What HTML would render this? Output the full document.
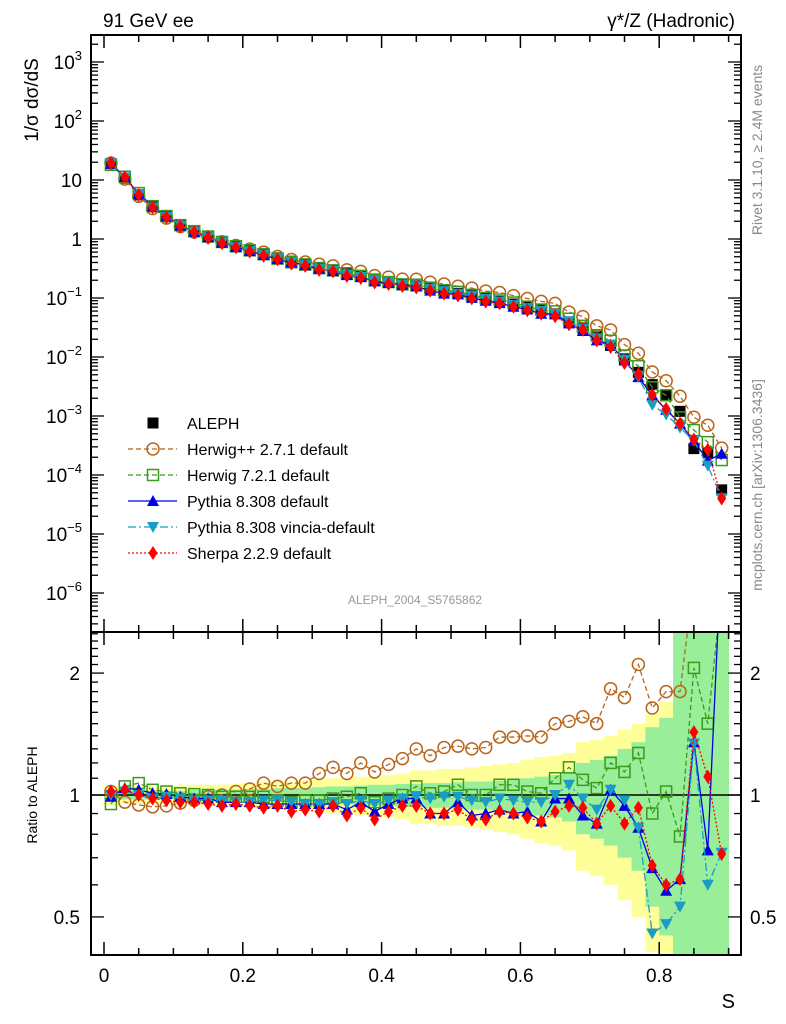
<!DOCTYPE html>
<html><head><meta charset="utf-8">
<style>
html,body{margin:0;padding:0;background:#fff;width:786px;height:1024px;overflow:hidden;}
svg{display:block;font-family:"Liberation Sans",sans-serif;}
</style></head>
<body>
<svg id="chart" width="786" height="1024" viewBox="0 0 786 1024" xmlns="http://www.w3.org/2000/svg">
<defs>
<clipPath id="clipMain"><rect x="91" y="35" width="650" height="597"/></clipPath>
<clipPath id="clipRatio"><rect x="91" y="632" width="650" height="323"/></clipPath>
</defs>
<g id="bands" clip-path="url(#clipRatio)"></g>
<g id="mainMarks" clip-path="url(#clipMain)"></g>
<g id="ratioMarks" clip-path="url(#clipRatio)"></g>
<g id="axes"></g>
<text x="103" y="27" font-size="19">91 GeV ee</text>
<text x="735" y="27" font-size="19" text-anchor="end">γ*/Z (Hadronic)</text>
<text transform="translate(38,100) rotate(-90)" font-size="19" text-anchor="middle">1/σ  dσ/dS</text>
<text transform="translate(37,795) rotate(-90)" font-size="14" text-anchor="middle">Ratio to ALEPH</text>
<text x="735" y="1008" font-size="20" text-anchor="end">S</text>
<text transform="translate(762,150) rotate(-90)" font-size="14" fill="#888" text-anchor="middle">Rivet 3.1.10, ≥ 2.4M events</text>
<text transform="translate(762,485) rotate(-90)" font-size="14" fill="#888" text-anchor="middle">mcplots.cern.ch [arXiv:1306.3436]</text>
<text x="415" y="604" font-size="12" fill="#999" text-anchor="middle">ALEPH_2004_S5765862</text>
<g id="legend"></g>
</svg>
<script>
// ---- data ----
const binCenters = [0.01,0.03,0.05,0.07,0.09,0.11,0.13,0.15,0.17,0.19,0.21,0.23,0.25,0.27,0.29,0.31,0.33,0.35,0.37,0.39,0.41,0.43,0.45,0.47,0.49,0.51,0.53,0.55,0.57,0.59,0.61,0.63,0.65,0.67,0.69,0.71,0.73,0.75,0.77,0.79,0.81,0.83,0.85,0.87,0.89];
const alephValues = [19,10.8,5.6,3.5,2.4,1.7,1.35,1.1,0.9,0.76,0.65,0.56,0.48,0.42,0.38,0.33,0.30,0.265,0.235,0.21,0.19,0.17,0.16,0.148,0.132,0.12,0.113,0.1,0.089,0.079,0.07,0.063,0.054,0.038,0.031,0.0225,0.0157,0.0093,0.0055,0.0034,0.0022,0.0012,0.00028,0.00024,0.000056];
const totalUnc = [0.055,0.05,0.05,0.05,0.05,0.055,0.06,0.06,0.06,0.065,0.07,0.075,0.08,0.08,0.085,0.09,0.10,0.10,0.11,0.11,0.12,0.13,0.15,0.15,0.16,0.16,0.17,0.18,0.19,0.20,0.22,0.24,0.25,0.27,0.35,0.37,0.40,0.45,0.50,0.59,0.70,2,2,2,2];
const statUnc = [0.025,0.025,0.025,0.025,0.025,0.025,0.03,0.03,0.03,0.03,0.035,0.035,0.04,0.04,0.04,0.045,0.05,0.05,0.055,0.06,0.06,0.065,0.065,0.07,0.07,0.075,0.08,0.08,0.085,0.09,0.10,0.11,0.12,0.14,0.20,0.22,0.25,0.30,0.35,0.47,0.55,2,2,2,2];
const herwigppRatio = [1.02,0.96,0.945,0.935,0.94,0.955,0.97,0.99,1.0,1.02,1.035,1.07,1.05,1.07,1.07,1.13,1.17,1.13,1.2,1.14,1.19,1.23,1.30,1.25,1.31,1.32,1.30,1.31,1.39,1.39,1.40,1.39,1.50,1.52,1.56,1.50,1.83,1.74,2.10,1.64,1.80,1.80,3.4,2.9,5.1];
const herwig7Ratio = [0.95,1.05,1.07,1.03,1.02,1.01,1.005,1.0,0.99,0.99,0.99,0.99,0.97,0.96,0.97,0.97,0.98,0.99,1.01,0.96,0.98,1.0,1.05,1.01,1.02,1.06,1.0,1.0,1.06,1.06,1.02,1.01,1.10,1.17,1.09,1.04,1.20,1.14,1.27,0.90,1.02,0.79,2.06,1.50,3.2];
const pythiaRatio = [0.99,1.04,1.03,1.01,1.006,0.99,0.98,0.98,0.96,0.96,0.96,0.95,0.95,0.95,0.95,0.95,0.95,0.92,0.96,0.91,0.95,0.98,0.98,0.90,0.90,0.96,0.89,0.90,0.92,0.90,0.91,0.86,0.98,0.98,0.89,0.85,1.03,0.94,0.83,0.66,0.58,0.62,1.35,0.73,4.1];
const vinciaRatio = [1.0,1.02,1.0,0.98,0.99,0.98,0.97,0.97,0.97,0.96,0.96,0.97,0.97,0.96,0.95,0.95,0.96,0.95,0.97,0.95,0.97,0.98,0.99,0.98,0.99,0.99,0.97,0.96,0.98,0.97,0.96,0.96,1.0,1.06,0.98,0.92,1.03,0.97,0.83,0.455,0.48,0.53,1.34,0.60,0.72];
const sherpaRatio = [1.02,1.03,1.0,0.98,0.97,0.96,0.96,0.95,0.94,0.95,0.94,0.93,0.94,0.91,0.92,0.91,0.94,0.89,0.93,0.87,0.91,0.94,0.94,0.90,0.90,0.92,0.87,0.87,0.91,0.90,0.88,0.86,0.91,0.94,0.93,0.85,0.94,0.85,0.93,0.67,0.60,0.62,1.43,1.11,0.715];
const xTickLabels = ["0","0.2","0.4","0.6","0.8"];
const yMainTickLabels = ["10⁻⁶","10⁻⁵","10⁻⁴","10⁻³","10⁻²","10⁻¹","1","10","10²","10³"];
const ratioTickLabels = ["0.5","1","2"];

// ---- axes functions ----
const NS="http://www.w3.org/2000/svg";
const X0=91, X1=741, YT=35, YM=632, YB=955;
function xs(s){return 104+694*s;}
function ym(v){return 239-59*Math.log10(v);}
function yr(r){return 795-405*Math.log10(r);}
function mk(tag,attrs,parent){const e=document.createElementNS(NS,tag);for(const k in attrs)e.setAttribute(k,attrs[k]);parent.appendChild(e);return e;}

const axes=document.getElementById('axes');
let f1=mk('rect',{x:X0,y:YT,width:X1-X0,height:YM-YT,fill:'none',stroke:'#000','stroke-width':2},axes);


let f2=mk('rect',{x:X0,y:YM,width:X1-X0,height:YB-YM,fill:'none',stroke:'#000','stroke-width':2},axes);



for(let k=0;k<=18;k++){
  const s=k*0.05, x=xs(s); if(x>X1)continue;
  const big=(k%4===0), len=big?13:7;
  [[YT,1],[YM,-1],[YM,1],[YB,-1]].forEach(([y,d])=>{
    mk('line',{x1:x,x2:x,y1:y,y2:y+d*len,stroke:'#000','stroke-width':1.5},axes);
  });
}
xTickLabels.forEach((lab,i)=>{
  const t=mk('text',{x:xs(i*0.2),y:982,'font-size':19,'text-anchor':'middle'},axes);
  t.textContent=lab;
  
  
});
for(let e=-7;e<=3;e++){
  for(let m=1;m<10;m++){
    const v=m*Math.pow(10,e), y=ym(v);
    if(y<YT||y>YM)continue;
    const len=m===1?13:7;
    mk('line',{x1:X0,x2:X0+len,y1:y,y2:y,stroke:'#000','stroke-width':1.3},axes);
    mk('line',{x1:X1,x2:X1-len,y1:y,y2:y,stroke:'#000','stroke-width':1.3},axes);
  }
}
yMainTickLabels.forEach((lab,i)=>{
  const e=i-6, y=ym(Math.pow(10,e));
  const t=mk('text',{x:82,y:y+7,'font-size':19,'text-anchor':'end'},axes);
  if(e>=2||e<0){
    t.textContent='10';
    const sup=mk('tspan',{dy:-9,'font-size':13},t);
    sup.textContent=(e<0?'−':'')+Math.abs(e);
  } else t.textContent=lab;
  
  
});
for(let k=4;k<=25;k++){
  const r=k/10, y=yr(r); if(y<YM||y>YB)continue;
  const len=(k===5||k===10||k===20)?13:7;
  mk('line',{x1:X0,x2:X0+len,y1:y,y2:y,stroke:'#000','stroke-width':1.3},axes);
  mk('line',{x1:X1,x2:X1-len,y1:y,y2:y,stroke:'#000','stroke-width':1.3},axes);
}
ratioTickLabels.forEach(lab=>{
  const y=yr(parseFloat(lab))+7;
  const t1=mk('text',{x:80,y:y,'font-size':19,'text-anchor':'end'},axes);t1.textContent=lab;
  
  
  const t2=mk('text',{x:750,y:y,'font-size':19},axes);t2.textContent=lab;
  
  
});

const bands=document.getElementById('bands');
function band(unc,color,name){
  binCenters.forEach((s,i)=>{
    const top=Math.max(YM-2,yr(1+unc[i]));
    const lo=1-unc[i];
    const bot=lo>0.35?yr(lo):YB+2;
    const r=mk('rect',{x:xs(s-0.01),y:top,width:694*0.02+0.5,height:bot-top,fill:color},bands);
    
    
  });
}
band(totalUnc,'#ffff99','total-uncertainty-band');
band(statUnc,'#99ee99','stat-uncertainty-band');
let one=mk('line',{x1:X0,x2:X1,y1:yr(1),y2:yr(1),stroke:'#000','stroke-width':1.5},bands);



function marker(type,x,y,color,parent){
  let e;
  if(type==='sq-fill') e=mk('rect',{x:x-5.5,y:y-5.5,width:11,height:11,fill:'#000'},parent);
  else if(type==='circle') e=mk('circle',{cx:x,cy:y,r:6,fill:'none',stroke:color,'stroke-width':1.5},parent);
  else if(type==='sq-open') e=mk('rect',{x:x-5.5,y:y-5.5,width:11,height:11,fill:'none',stroke:color,'stroke-width':1.5},parent);
  else if(type==='tri-up') e=mk('polygon',{points:`${x},${y-6} ${x-6},${y+5} ${x+6},${y+5}`,fill:color},parent);
  else if(type==='tri-down') e=mk('polygon',{points:`${x},${y+6} ${x-6},${y-5} ${x+6},${y-5}`,fill:color},parent);
  else if(type==='diamond') e=mk('polygon',{points:`${x},${y-7} ${x-4.5},${y} ${x},${y+7} ${x+4.5},${y}`,fill:color},parent);
  return e;
}
const series=[
 {name:'herwigpp',ratio:herwigppRatio,color:'#b8651a',type:'circle',dash:'5,3',label:'Herwig++ 2.7.1 default'},
 {name:'herwig7',ratio:herwig7Ratio,color:'#3a9a1c',type:'sq-open',dash:'5,3',label:'Herwig 7.2.1 default'},
 {name:'pythia',ratio:pythiaRatio,color:'#0000e6',type:'tri-up',dash:'',label:'Pythia 8.308 default'},
 {name:'vincia',ratio:vinciaRatio,color:'#1a9cc4',type:'tri-down',dash:'8,3,2,3',label:'Pythia 8.308 vincia-default'},
 {name:'sherpa',ratio:sherpaRatio,color:'#ff0000',type:'diamond',dash:'2,2',label:'Sherpa 2.2.9 default'}
];
const mainG=document.getElementById('mainMarks');
const ratioG=document.getElementById('ratioMarks');
binCenters.forEach((s,i)=>{
  const m=marker('sq-fill',xs(s),ym(alephValues[i]),'#000',mainG);
  
  
});
series.forEach(sr=>{
  const pm=binCenters.map((s,i)=>xs(s)+','+ym(alephValues[i]*sr.ratio[i])).join(' ');
  const pr=binCenters.map((s,i)=>xs(s)+','+yr(sr.ratio[i])).join(' ');
  const l1=mk('polyline',{points:pm,fill:'none',stroke:sr.color,'stroke-width':1.3,'stroke-dasharray':sr.dash},mainG);
  
  
  const l2=mk('polyline',{points:pr,fill:'none',stroke:sr.color,'stroke-width':1.3,'stroke-dasharray':sr.dash},ratioG);
  
  
  binCenters.forEach((s,i)=>{
    const a=marker(sr.type,xs(s),ym(alephValues[i]*sr.ratio[i]),sr.color,mainG);
    
    
    const b=marker(sr.type,xs(s),yr(sr.ratio[i]),sr.color,ratioG);
    
    
  });
});
const lg=document.getElementById('legend');
let ly=423;
const a0=marker('sq-fill',153,ly,'#000',lg);


const at=mk('text',{x:187,y:ly+6,'font-size':16},lg);at.textContent='ALEPH';


series.forEach((sr,i)=>{
  const y=ly+26*(i+1);
  const ln=mk('line',{x1:128,x2:177,y1:y,y2:y,stroke:sr.color,'stroke-width':1.3,'stroke-dasharray':sr.dash},lg);
  
  
  const m=marker(sr.type,153,y,sr.color,lg);
  
  
  const t=mk('text',{x:187,y:y+6,'font-size':16},lg);t.textContent=sr.label;
  
  
});
</script>
</body></html>
